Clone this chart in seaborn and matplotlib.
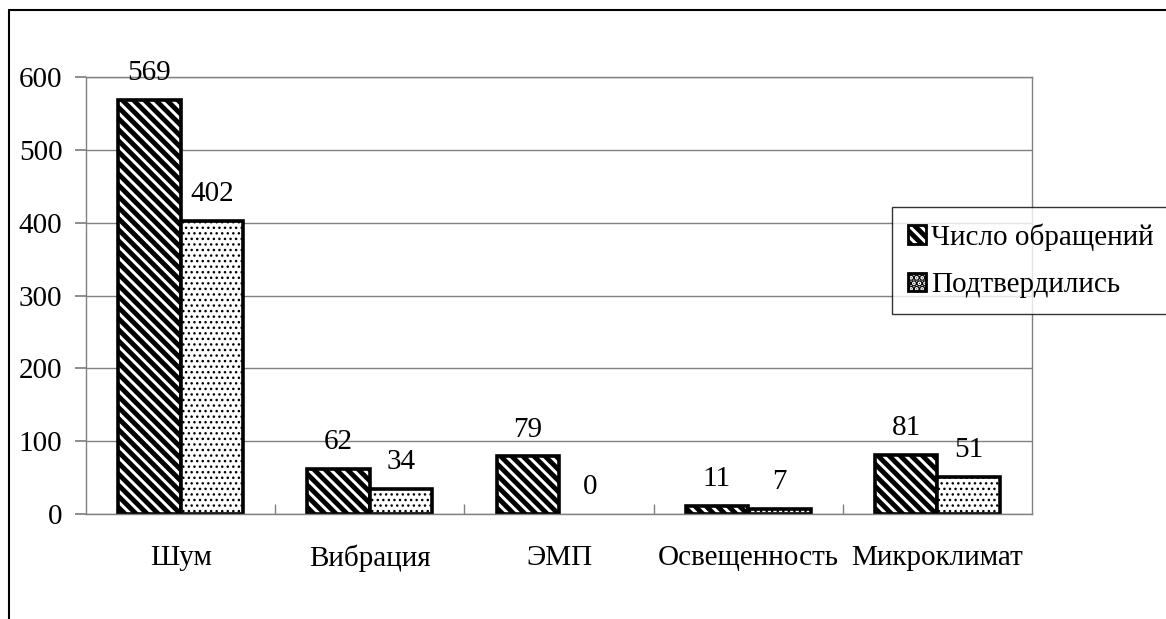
import pandas as pd
import matplotlib.pyplot as plt
import seaborn as sns
from matplotlib.lines import Line2D
from matplotlib.patches import Patch
from matplotlib.ticker import FixedLocator

# data
categories = ['Шум', 'Вибрация', 'ЭМП', 'Освещенность', 'Микроклимат']
series_names = ['Число обращений', 'Подтвердились']
requests = [569, 62, 79, 11, 81]
confirmed = [402, 34, 0, 7, 51]
y_ticks = [0, 100, 200, 300, 400, 500, 600]

df = pd.DataFrame({
    'Категория': categories * 2,
    'Значение': requests + confirmed,
    'Серия': [series_names[0]] * len(categories) + [series_names[1]] * len(categories),
})

sns.set_theme(style='white')
plt.rcParams['font.family'] = ['Liberation Serif', 'DejaVu Serif']
plt.rcParams['text.color'] = 'black'
plt.rcParams['hatch.linewidth'] = 3.5

fig = plt.figure(figsize=(11.66, 6.19), dpi=100)
ax = fig.add_axes([0.0738, 0.1696, 0.8112, 0.706])

sns.barplot(data=df, x='Категория', y='Значение', hue='Серия',
            palette=['white', 'white'], edgecolor='black', linewidth=2.6,
            width=0.66, saturation=1, ax=ax, legend=False)

hatches = ['\\\\\\', '...']
for cont, h in zip(ax.containers, hatches):
    for bar in cont:
        bar.set_hatch(h)
        if h == '...' and hasattr(bar, 'set_hatch_linewidth'):
            bar.set_hatch_linewidth(1.0)
        if bar.get_height() == 0:
            bar.set_linewidth(0)
    ax.bar_label(cont, padding=10, fontsize=21, color='black')

ax.set_ylim(0, 600)
ax.set_xlim(-0.5, len(categories) - 0.5)
ax.set_yticks(y_ticks)
ax.yaxis.grid(True, color='#808080', linewidth=1)
ax.set_axisbelow(True)
for side in ['left', 'bottom', 'right', 'top']:
    ax.spines[side].set_visible(True)
    ax.spines[side].set_color('#808080')
    ax.spines[side].set_linewidth(1)

ax.set_xlabel('')
ax.set_ylabel('')
ax.tick_params(axis='y', which='major', left=True, direction='out', length=8,
               color='#808080', labelsize=21, labelcolor='black', pad=9)
ax.tick_params(axis='x', which='major', bottom=False, labelsize=21,
               labelcolor='black', pad=16)
ax.xaxis.set_minor_locator(FixedLocator([i + 0.5 for i in range(len(categories) - 1)]))
ax.tick_params(axis='x', which='minor', bottom=True, direction='in', length=7,
               color='#808080', width=1)

handles = [Patch(facecolor='white', edgecolor='black', hatch=h, linewidth=2)
           for h in hatches]
leg = fig.legend(handles, series_names, loc='upper left',
                 bbox_to_anchor=(892 / 1166, 1 - 207 / 619),
                 frameon=True, fancybox=False, fontsize=21,
                 handlelength=0.6, handleheight=0.6, handletextpad=0.2,
                 labelspacing=0.75, borderpad=0.55, borderaxespad=0)
leg.get_frame().set_edgecolor('black')
leg.get_frame().set_linewidth(1)
for t in leg.get_texts():
    t.set_color('black')

# outer chart frame (left and top edges visible)
fig.add_artist(Line2D([9 / 1166, 9 / 1166], [0, 1 - 10 / 619], color='black', lw=1.5))
fig.add_artist(Line2D([9 / 1166, 1], [1 - 10 / 619, 1 - 10 / 619], color='black', lw=1.5))

fig.savefig('out.png', dpi=100)
